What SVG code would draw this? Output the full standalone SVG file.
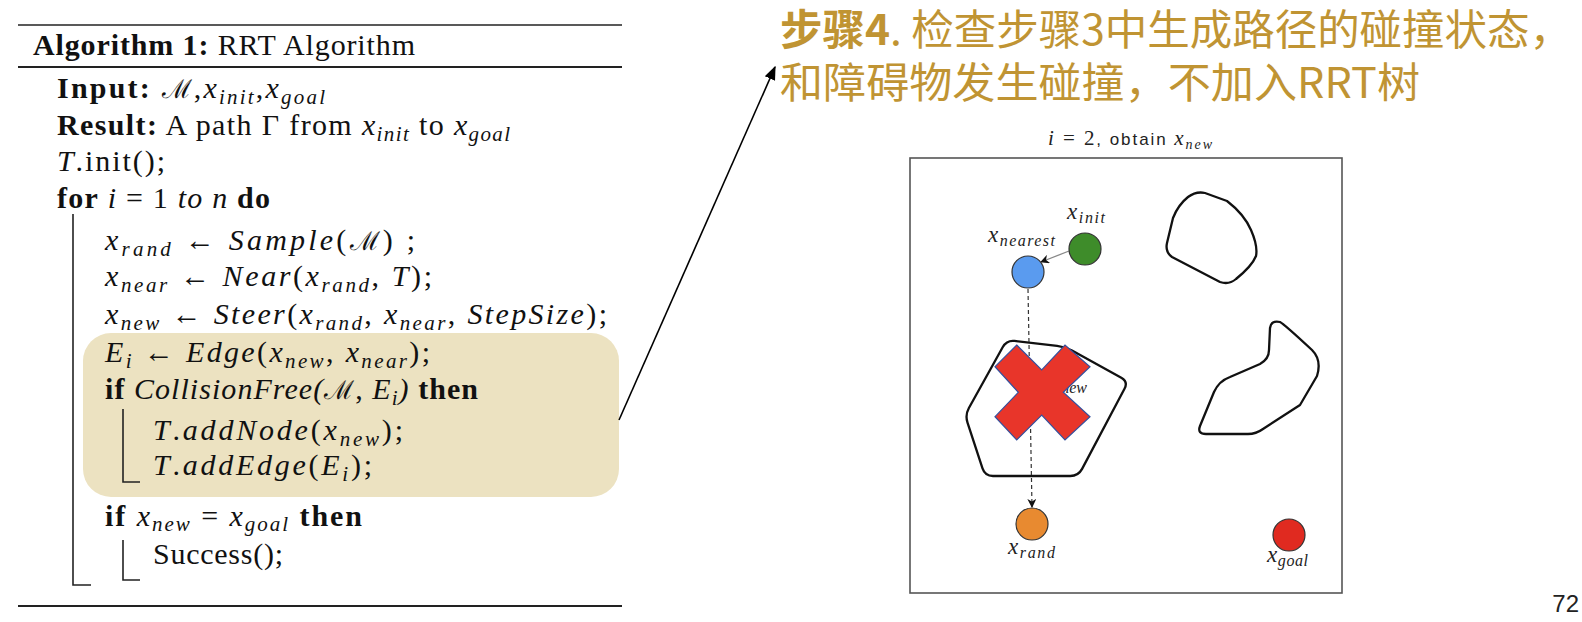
<svg xmlns="http://www.w3.org/2000/svg" width="1582" height="622" viewBox="0 0 1582 622">
<style>
.alg{font-family:"Liberation Serif","DejaVu Serif",serif;font-size:30px;fill:#111}
.b{font-weight:bold}
.i{font-style:italic}
.sub{font-size:21px;font-style:italic}
.cal{font-family:"DejaVu Serif","Liberation Serif",serif;font-style:normal;font-size:26px}
.rule{stroke:#222;fill:none}
.bar{stroke:#222;stroke-width:1.6;fill:none}
.cn{font-family:"Noto Sans CJK SC","Noto Sans",sans-serif;font-size:42px;fill:#c09433}
.lbl{font-family:"Liberation Serif","DejaVu Serif",serif;font-style:italic;font-size:23px;fill:#222}
.lsub{font-size:16px}
.obs{fill:none;stroke:#111;stroke-width:2.3;stroke-linejoin:round}
.node{stroke:#333;stroke-width:1.2}
</style>
<defs>
<marker id="ahs" viewBox="0 0 10 10" refX="9" refY="5" markerWidth="9" markerHeight="9" orient="auto" markerUnits="userSpaceOnUse">
<path d="M0,0 L10,5 L0,10 L3,5 z" fill="#111"/>
</marker>
<marker id="ahbig" viewBox="0 0 10 10" refX="9" refY="5" markerWidth="14" markerHeight="14" orient="auto" markerUnits="userSpaceOnUse">
<path d="M0,1 L10,5 L0,9 z" fill="#000"/>
</marker>
</defs>
<rect width="1582" height="622" fill="#ffffff"/>

<g id="algorithm">
<rect id="highlight" x="83" y="333" width="536" height="164" rx="28" fill="#ece2c1"/>
<line class="rule" x1="18" y1="25" x2="622" y2="25" stroke-width="1.6"/>
<line class="rule" x1="18" y1="67" x2="622" y2="67" stroke-width="2.2"/>
<line class="rule" x1="18" y1="606" x2="622" y2="606" stroke-width="2.2"/>
<path class="bar" d="M73,214 V585 H91"/>
<path class="bar" d="M123,409 V482 H140"/>
<path class="bar" d="M123,540 V580 H140"/>

<text class="alg" x="33" y="55" textLength="382" lengthAdjust="spacing"><tspan class="b">Algorithm 1:</tspan> RRT Algorithm</text>
<text class="alg" x="57" y="98" textLength="268" lengthAdjust="spacing"><tspan class="b">Input:</tspan> <tspan class="cal">ℳ</tspan>,<tspan class="i">x</tspan><tspan class="sub" dy="6">init</tspan><tspan dy="-6">,</tspan><tspan class="i">x</tspan><tspan class="sub" dy="6">goal</tspan></text>
<text class="alg" x="57" y="135" textLength="453" lengthAdjust="spacing"><tspan class="b">Result:</tspan> A path Γ from <tspan class="i">x</tspan><tspan class="sub" dy="6">init</tspan><tspan dy="-6"> to </tspan><tspan class="i">x</tspan><tspan class="sub" dy="6">goal</tspan></text>
<text class="alg" x="57" y="171" textLength="108" lengthAdjust="spacing"><tspan class="i">T</tspan>.init();</text>
<text class="alg" x="57" y="208" textLength="213" lengthAdjust="spacing"><tspan class="b">for</tspan> <tspan class="i">i</tspan> = 1 <tspan class="i">to n</tspan> <tspan class="b">do</tspan></text>
<text class="alg" x="105" y="250" textLength="310" lengthAdjust="spacing"><tspan class="i">x</tspan><tspan class="sub" dy="6">rand</tspan><tspan dy="-6"> ← </tspan><tspan class="i">Sample</tspan>(<tspan class="cal">ℳ</tspan>) ;</text>
<text class="alg" x="105" y="286" textLength="327" lengthAdjust="spacing"><tspan class="i">x</tspan><tspan class="sub" dy="6">near</tspan><tspan dy="-6"> ← </tspan><tspan class="i">Near</tspan>(<tspan class="i">x</tspan><tspan class="sub" dy="6">rand</tspan><tspan dy="-6">, </tspan><tspan class="i">T</tspan>);</text>
<text class="alg" x="105" y="324" textLength="502" lengthAdjust="spacing"><tspan class="i">x</tspan><tspan class="sub" dy="6">new</tspan><tspan dy="-6"> ← </tspan><tspan class="i">Steer</tspan>(<tspan class="i">x</tspan><tspan class="sub" dy="6">rand</tspan><tspan dy="-6">, </tspan><tspan class="i">x</tspan><tspan class="sub" dy="6">near</tspan><tspan dy="-6">, </tspan><tspan class="i">StepSize</tspan>);</text>
<text class="alg" x="105" y="362" textLength="325" lengthAdjust="spacing"><tspan class="i">E</tspan><tspan class="sub" dy="6">i</tspan><tspan dy="-6"> ← </tspan><tspan class="i">Edge</tspan>(<tspan class="i">x</tspan><tspan class="sub" dy="6">new</tspan><tspan dy="-6">, </tspan><tspan class="i">x</tspan><tspan class="sub" dy="6">near</tspan><tspan dy="-6">);</tspan></text>
<text class="alg" x="105" y="399" textLength="373" lengthAdjust="spacing"><tspan class="b">if</tspan> <tspan class="i">CollisionFree(</tspan><tspan class="cal">ℳ</tspan>, <tspan class="i">E</tspan><tspan class="sub" dy="6">i</tspan><tspan class="i" dy="-6">)</tspan> <tspan class="b">then</tspan></text>
<text class="alg" x="153" y="440" textLength="250" lengthAdjust="spacing"><tspan class="i">T</tspan>.<tspan class="i">addNode</tspan>(<tspan class="i">x</tspan><tspan class="sub" dy="6">new</tspan><tspan dy="-6">);</tspan></text>
<text class="alg" x="153" y="475" textLength="219" lengthAdjust="spacing"><tspan class="i">T</tspan>.<tspan class="i">addEdge</tspan>(<tspan class="i">E</tspan><tspan class="sub" dy="6">i</tspan><tspan dy="-6">);</tspan></text>
<text class="alg" x="105" y="526" textLength="257" lengthAdjust="spacing"><tspan class="b">if</tspan> <tspan class="i">x</tspan><tspan class="sub" dy="5">new</tspan><tspan dy="-5"> = </tspan><tspan class="i">x</tspan><tspan class="sub" dy="5">goal</tspan><tspan dy="-5"> </tspan><tspan class="b">then</tspan></text>
<text class="alg" x="153" y="564" textLength="130" lengthAdjust="spacing">Success();</text>
</g>

<g id="caption">
<text class="cn" x="780" y="45" textLength="792" lengthAdjust="spacingAndGlyphs"><tspan font-weight="bold">步骤4</tspan>. 检查步骤3中生成路径的碰撞状态，</text>
<text class="cn" x="780" y="98" textLength="640" lengthAdjust="spacingAndGlyphs">和障碍物发生碰撞，不加入RRT树</text>
</g>

<g id="panel">
<text x="1048" y="145" font-family="Liberation Sans,Arial,sans-serif" font-size="17" fill="#222" textLength="164" lengthAdjust="spacing"><tspan font-family="Liberation Serif,serif" font-style="italic" font-size="21">i</tspan><tspan font-family="Liberation Serif,serif" font-size="21"> = 2</tspan>, obtain <tspan font-family="Liberation Serif,serif" font-style="italic" font-size="21">x</tspan><tspan font-family="Liberation Serif,serif" font-style="italic" font-size="14" dy="4">new</tspan></text>
<rect x="910" y="158" width="432" height="435" fill="none" stroke="#555" stroke-width="1.6"/>
</g>

<g id="obstacle1"><path class="obs" d="M1188,197 Q1196,191 1205,193 L1227,201 Q1244,214 1251,230 Q1258,246 1256,256 Q1252,266 1236,279 Q1229,285 1220,282 L1172,257 Q1165,252 1167,243 L1173,218 Q1178,205 1188,197 Z"/></g>
<g id="obstacle2"><path class="obs" d="M1270,328 Q1271,320 1280,322 Q1284,324 1312,350 Q1322,360 1317,376 L1300,405 L1263,429 Q1256,434 1248,434 L1206,434 Q1197,434 1200,426 L1214,392 Q1219,381 1230,377 L1260,364 Q1269,359 1269,350 Z"/></g>
<g id="obstacle3"><path class="obs" d="M968.9,408 L1002.8,347 Q1006.7,340 1014.6,340.9 L1057.1,345.8 Q1065,346.7 1072,350.6 L1121.3,377.8 Q1128.3,381.7 1124.5,388.8 L1082.1,468.9 Q1078.3,476 1070.3,476 L993,476 Q985,476 982.5,468.4 L967.5,422.6 Q965,415 968.9,408 Z"/></g>

<g id="connectors">
<line x1="619" y1="420" x2="775" y2="67" stroke="#000" stroke-width="1.6" marker-end="url(#ahbig)"/>
<line x1="1069" y1="251" x2="1041" y2="262" stroke="#888" stroke-width="1.3" marker-end="url(#ahs)"/>
<line x1="1028" y1="289" x2="1032" y2="507" stroke="#333" stroke-width="1.2" stroke-dasharray="4 3" marker-end="url(#ahs)"/>
</g>

<g id="x_new">
<text class="lbl" x="1051" y="388">x<tspan class="lsub" dy="5">new</tspan></text>
</g>
<g id="cross">
<polygon points="1016.7,345 1041.7,370 1065,345 1090,366.7 1063.3,392.3 1090,416.7 1065,440 1041.7,415 1016.7,440 995,416.7 1018.3,392.3 995,366.7" fill="#e8352a" stroke="#34509e" stroke-width="1.2" stroke-linejoin="miter"/>
</g>

<g id="x_init">
<circle class="node" cx="1085" cy="249" r="16" fill="#3e8c2a"/>
<text class="lbl" x="1067" y="219" textLength="38" lengthAdjust="spacing">x<tspan class="lsub" dy="4">init</tspan></text>
</g>
<g id="x_nearest">
<circle class="node" cx="1028" cy="272" r="16" fill="#5a9bef"/>
<text class="lbl" x="988" y="242" textLength="67" lengthAdjust="spacing">x<tspan class="lsub" dy="4">nearest</tspan></text>
</g>
<g id="x_rand">
<circle class="node" cx="1032" cy="524" r="16" fill="#e88a30"/>
<text class="lbl" x="1008" y="554" textLength="47" lengthAdjust="spacing">x<tspan class="lsub" dy="4">rand</tspan></text>
</g>
<g id="x_goal">
<circle class="node" cx="1289" cy="535" r="16" fill="#e02a20"/>
<text class="lbl" x="1267" y="562" textLength="41" lengthAdjust="spacing">x<tspan class="lsub" dy="4">goal</tspan></text>
</g>

<text id="page" x="1579" y="612" text-anchor="end" font-family="Liberation Sans,Arial,sans-serif" font-size="24" fill="#222">72</text>
</svg>
